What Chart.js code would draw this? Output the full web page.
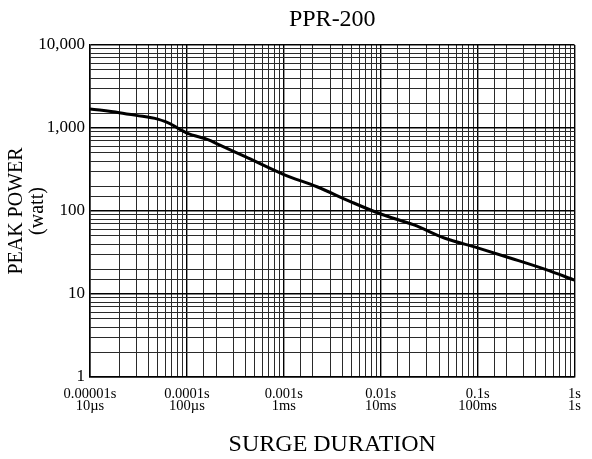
<!DOCTYPE html>
<html>
<head>
<meta charset="utf-8">
<script src="https://cdn.jsdelivr.net/npm/chart.js@4/dist/chart.umd.min.js"></script>
<style>
  html, body { margin: 0; padding: 0; background: #fff; }
  #wrap { width: 592px; height: 459px; }
</style>
</head>
<body>
<div id="wrap"><canvas id="surgeChart"></canvas></div>
<script>
// surge duration (s) vs peak power (watt)
const durations = [1e-5, 2e-5, 3e-5, 5e-5, 6e-5, 7.5e-5, 8.5e-5, 1e-4, 1.7e-4, 2e-4, 4e-4,
                   1e-3, 2.2e-3, 5e-3, 1e-2, 2.2e-2, 4.6e-2, 0.1, 0.22, 0.5, 1];
const peakPower = [1700, 1530, 1420, 1280, 1190, 1050, 960, 870, 716, 654, 451,
                   275, 196, 128, 92, 68, 47, 36, 27, 19.8, 14.7];

const xTickSeconds = ['0.00001s', '0.0001s', '0.001s', '0.01s', '0.1s', '1s'];
const xTickUnits = ['10\u00b5s', '100\u00b5s', '1ms', '10ms', '100ms', '1s'];
const yTickLabels = ['1', '10', '100', '1,000', '10,000'];

const serif = "'Liberation Serif', 'Times New Roman', serif";

const isDecade = (v) => {
    const l = Math.log10(v);
    return Math.abs(l - Math.round(l)) < 1e-6;
};

const gridColor = (ctx) => (ctx.tick && isDecade(ctx.tick.value)) ? '#000' : '#2a2a2a';
const gridWidth = (ctx) => (ctx.tick && isDecade(ctx.tick.value)) ? 1.4 : 1;

const points = durations.map((d, i) => ({ x: d, y: peakPower[i] }));

const ctx = document.getElementById('surgeChart').getContext('2d');
new Chart(ctx, {
    type: 'line',
    data: {
        datasets: [{
            label: 'PPR-200',
            data: points,
            borderColor: '#000',
            borderWidth: 3,
            pointRadius: 0,
            cubicInterpolationMode: 'monotone',
            fill: false
        }]
    },
    options: {
        responsive: true,
        maintainAspectRatio: false,
        animation: false,
        devicePixelRatio: 1,
        layout: {
            padding: { left: 0, right: 14, top: 0, bottom: 0 }
        },
        scales: {
            x: {
                type: 'logarithmic',
                min: 1e-5,
                max: 1,
                afterFit: (scale) => { scale.height = 82; },
                grid: {
                    color: gridColor,
                    lineWidth: gridWidth,
                    drawTicks: false
                },
                border: { color: '#000', width: 1.5 },
                ticks: {
                    autoSkip: false,
                    maxRotation: 0,
                    padding: 11,
                    color: '#000',
                    font: { family: serif, size: 14.5, lineHeight: 0.82 },
                    callback: function(value) {
                        if (!isDecade(value)) return '';
                        const i = Math.round(Math.log10(value)) + 5;
                        return [xTickSeconds[i], xTickUnits[i]];
                    }
                },
                title: {
                    display: true,
                    text: 'SURGE DURATION',
                    color: '#000',
                    font: { family: serif, size: 24, lineHeight: 1.2 },
                    padding: { top: 0, bottom: 0 }
                }
            },
            y: {
                type: 'logarithmic',
                min: 1,
                max: 10000,
                afterFit: (scale) => { scale.width = 90; },
                grid: {
                    color: gridColor,
                    lineWidth: gridWidth,
                    drawTicks: false
                },
                border: { color: '#000', width: 1.5 },
                ticks: {
                    autoSkip: false,
                    padding: 5,
                    color: '#000',
                    font: { family: serif, size: 17 },
                    callback: function(value) {
                        if (!isDecade(value)) return '';
                        return yTickLabels[Math.round(Math.log10(value))];
                    }
                },
                title: {
                    display: true,
                    text: ['PEAK POWER', '(watt)'],
                    color: '#000',
                    font: { family: serif, size: 20, lineHeight: 1.05 },
                    padding: { top: 6.5, bottom: 0 }
                }
            }
        },
        plugins: {
            legend: { display: false },
            tooltip: { enabled: false },
            title: {
                display: true,
                fullSize: false,
                text: 'PPR-200',
                color: '#000',
                font: { family: serif, size: 24, weight: 'normal', lineHeight: 1.2 },
                padding: { top: 5.6, bottom: 10.6 }
            }
        }
    }
});
</script>
</body>
</html>
